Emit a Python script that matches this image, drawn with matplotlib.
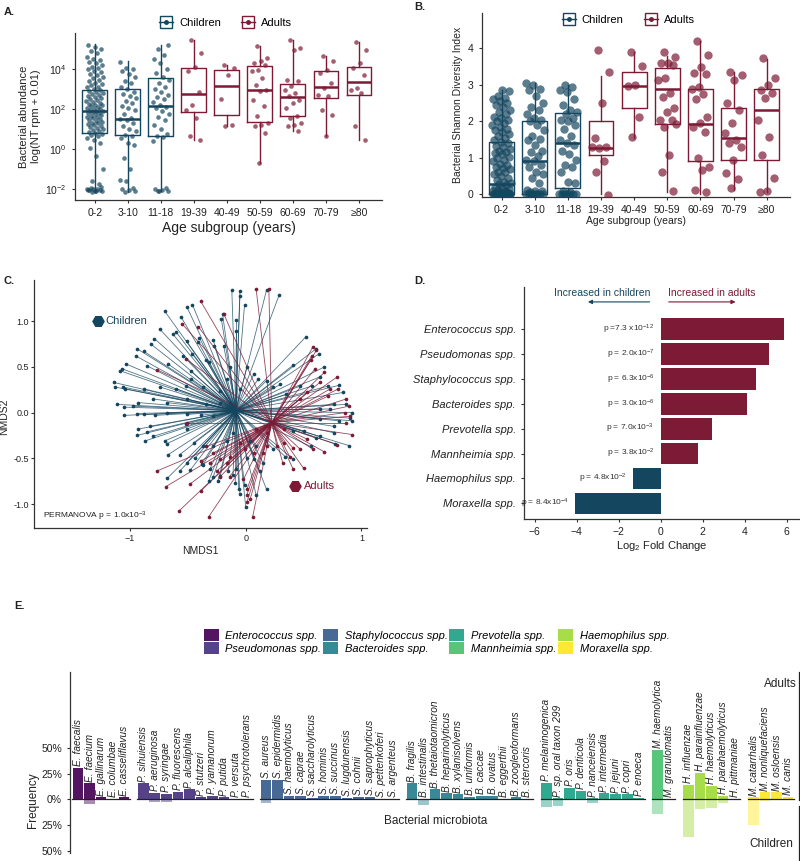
import numpy as np
import matplotlib
matplotlib.use("Agg")
import matplotlib.pyplot as plt
from matplotlib.lines import Line2D
from matplotlib.patches import Patch
from matplotlib.collections import LineCollection
from matplotlib.legend_handler import HandlerTuple

plt.rcParams['font.family'] = ['Liberation Sans', 'DejaVu Sans']
plt.rcParams['mathtext.fontset'] = 'custom'
plt.rcParams['mathtext.rm'] = 'Liberation Sans'
plt.rcParams['mathtext.it'] = 'Liberation Sans:italic'

# ---------------- DATA ----------------
age_groups = ['0-2', '3-10', '11-18', '19-39', '40-49', '50-59', '60-69', '70-79', '≥80']
group_is_child = [True, True, True, False, False, False, False, False, False]

# Panel A: log10(NT rpm + 0.01) box statistics
A_q1 = [0.78, 0.67, 0.63, 1.82, 1.67, 1.32, 1.62, 2.53, 2.67]
A_med = [1.87, 1.50, 2.12, 2.75, 3.15, 2.95, 2.57, 3.07, 3.32]
A_q3 = [2.95, 2.98, 3.53, 4.03, 3.92, 4.15, 3.23, 3.90, 4.08]
A_wlo = [-2.13, -2.13, -2.10, 0.45, 1.12, -0.72, 0.87, 0.62, 0.45]
A_whi = [5.23, 4.37, 5.20, 5.42, 4.20, 5.12, 5.42, 4.65, 5.32]
A_points = [
    [-2.15, -2.1, -2.1, -2.05, -2.05, -2.0, -2.0, -2.0, -1.95, -1.9, -2.1, -2.05, -1.75, -1.6, -1.0, -0.35,
     0.05, 0.3, 0.45, 0.55, 0.62, 0.7, 0.74, 0.8, 0.83, 0.9, 0.95, 1.0, 1.03, 1.1, 1.15, 1.2, 1.22, 1.28,
     1.3, 1.35, 1.4, 1.45, 1.5, 1.52, 1.58, 1.6, 1.65, 1.7, 1.72, 1.78, 1.8, 1.85, 1.88, 1.9, 1.93, 1.97,
     2.0, 2.04, 2.1, 2.12, 2.18, 2.2, 2.25, 2.3, 2.33, 2.4, 2.42, 2.5, 2.55, 2.6, 2.63, 2.7, 2.75, 2.8,
     2.85, 2.9, 2.95, 3.0, 3.08, 3.1, 3.2, 3.25, 3.3, 3.4, 3.45, 3.55, 3.6, 3.7, 3.75, 3.85, 3.9, 4.0,
     4.05, 4.1, 4.2, 4.3, 4.35, 4.45, 4.5, 4.6, 4.8, 4.9, 5.0, 5.1, 5.2],
    [-2.15, -2.1, -2.05, -2.0, -1.95, -1.6, -1.55, -1.0, -0.45, 0.2, 0.3, 0.55, 0.65, 0.7, 0.9, 1.0, 1.15,
     1.3, 1.45, 1.5, 1.55, 1.75, 1.95, 2.05, 2.15, 2.3, 2.4, 2.55, 2.65, 2.75, 2.85, 3.0, 3.1, 3.3, 3.4,
     3.6, 3.75, 3.9, 4.0, 4.05, 4.35],
    [-2.12, -2.08, -2.05, -2.0, -1.95, -2.1, 0.4, 0.6, 0.65, 0.75, 1.0, 1.2, 1.45, 1.6, 1.75, 1.9, 2.05,
     2.1, 2.2, 2.35, 2.5, 2.6, 2.7, 2.85, 3.0, 3.1, 3.3, 3.45, 3.6, 3.8, 4.0, 4.3, 4.5, 4.7, 5.0, 5.2],
    [5.42, 4.78, 4.1, 3.9, 2.85, 2.2, 1.95, 1.55, 0.62, 0.45],
    [4.2, 4.05, 3.7, 2.5, 1.2, 1.12],
    [5.12, 4.53, 4.37, 4.28, 4.2, 3.95, 3.87, 3.53, 3.2, 2.95, 2.87, 2.45, 2.12, 1.62, 1.28, 1.2, 1.15, 0.78, -0.72],
    [5.42, 5.03, 4.95, 3.45, 3.37, 3.12, 2.95, 2.78, 2.62, 2.45, 2.28, 2.03, 1.62, 1.53, 1.28, 1.2, 1.12, 0.87],
    [4.65, 4.37, 3.95, 3.78, 3.28, 3.03, 2.7, 2.62, 1.95, 1.7, 0.62],
    [5.32, 4.95, 4.28, 4.03, 3.7, 3.03, 2.95, 2.78, 1.15, 0.45],
]

# Panel B: Shannon diversity
B_q1 = [0.02, 0.02, 0.18, 1.08, 2.37, 1.92, 0.90, 0.95, 0.95]
B_med = [0.28, 0.92, 1.40, 1.28, 2.98, 2.88, 1.92, 1.55, 2.30]
B_q3 = [1.42, 2.00, 2.22, 2.02, 3.35, 3.45, 2.90, 2.37, 2.88]
B_wlo = [0.0, 0.0, 0.0, 0.0, 1.55, 0.05, 0.0, 0.12, 0.05]
B_whi = [2.85, 3.05, 3.00, 3.25, 3.90, 3.80, 4.20, 3.35, 3.72]
B_points = [
    [0, 0, 0, 0, 0, 0, 0, 0, 0, 0, 0, 0, 0, 0, 0, 0.02, 0.03, 0.05, 0.05, 0.08, 0.1, 0.12, 0.15, 0.18, 0.2,
     0.25, 0.28, 0.3, 0.35, 0.4, 0.45, 0.5, 0.55, 0.6, 0.62, 0.7, 0.72, 0.75, 0.8, 0.82, 0.9, 0.95, 1.0,
     1.02, 1.1, 1.12, 1.15, 1.2, 1.25, 1.3, 1.32, 1.4, 1.42, 1.5, 1.55, 1.6, 1.65, 1.7, 1.75, 1.8, 1.85,
     1.9, 1.95, 2.0, 2.05, 2.1, 2.12, 2.2, 2.25, 2.3, 2.4, 2.45, 2.5, 2.55, 2.6, 2.65, 2.7, 2.82, 2.85],
    [0, 0, 0, 0, 0, 0, 0, 0.02, 0.05, 0.08, 0.1, 0.12, 0.3, 0.45, 0.55, 0.6, 0.75, 0.8, 0.9, 0.95, 1.05,
     1.15, 1.2, 1.35, 1.5, 1.52, 1.6, 1.75, 1.9, 2.0, 2.05, 2.1, 2.2, 2.3, 2.4, 2.5, 2.7, 2.85, 2.9, 3.0, 3.05],
    [0, 0, 0, 0, 0, 0, 0.02, 0.05, 0.1, 0.3, 0.35, 0.6, 0.75, 0.8, 0.95, 1.1, 1.2, 1.35, 1.4, 1.5, 1.6,
     1.8, 1.9, 2.0, 2.05, 2.1, 2.2, 2.25, 2.3, 2.45, 2.6, 2.8, 2.85, 2.95, 3.0],
    [3.95, 3.36, 2.5, 1.53, 1.3, 1.28, 1.3, 0.92, 0.62, -0.03],
    [3.9, 3.52, 3.0, 2.97, 2.13, 1.56],
    [3.89, 3.77, 3.59, 3.59, 3.54, 3.18, 3.13, 2.77, 2.68, 2.36, 2.26, 2.04, 2.04, 1.85, 1.93, 1.08, 0.62, 0.09],
    [4.21, 3.82, 3.5, 3.33, 3.3, 2.93, 2.9, 2.74, 2.6, 2.13, 1.95, 1.85, 1.72, 0.99, 0.76, 0.67, 0.12, 0.05],
    [3.36, 3.27, 3.13, 2.49, 2.31, 1.96, 1.67, 1.49, 1.4, 1.31, 0.94, 0.58, 0.41, 0.16],
    [3.73, 3.18, 3.0, 2.86, 2.77, 2.63, 2.05, 1.58, 1.08, 0.44, 0.09, 0.07],
]

# Panel C: NMDS coordinates
C_children_centroid = (-0.085, 0.02)
C_adults_centroid = (0.225, -0.11)
C_children = [
    (-0.46, 1.18), (-0.51, 1.16), (-0.70, 1.11), (-0.56, 1.05), (-0.21, 1.02), (-0.20, 1.08), (-0.08, 1.01),
    (-0.08, 0.89), (-0.74, 0.91), (-0.63, 0.86), (-0.60, 0.88), (-0.79, 0.81), (-0.51, 0.78), (-0.40, 0.82),
    (-0.82, 0.75), (-0.94, 0.70), (-0.88, 0.67), (-0.95, 0.62), (-0.41, 0.77), (-0.28, 0.79), (-0.27, 0.73),
    (-0.19, 0.73), (-0.54, 0.62), (-0.46, 0.64), (-0.34, 0.57), (-0.32, 0.55), (-0.14, 0.50), (0.01, 0.50),
    (-1.03, 0.53), (-1.07, 0.48), (-1.09, 0.46), (-0.85, 0.51), (-0.67, 0.53), (-0.47, 0.45), (-0.47, 0.37),
    (-0.16, 0.37), (0.07, 0.42), (0.11, 0.37), (0.18, 0.35), (0.41, 0.52), (0.52, 0.83), (0.61, 0.70),
    (0.63, 0.64), (-1.14, 0.33), (-1.13, 0.28), (-1.06, 0.28), (-1.04, 0.26), (-0.88, 0.26), (-0.74, 0.28),
    (-0.60, 0.26), (-0.52, 0.29), (-0.37, 0.28), (-0.22, 0.24), (-0.05, 0.26), (0.24, 0.28), (0.30, 0.31),
    (0.35, 0.20), (0.47, 0.29), (0.57, 0.29), (0.68, 0.50), (0.64, 0.39), (0.71, 0.29), (0.81, 0.30),
    (0.84, 0.22), (-1.11, 0.09), (-1.05, 0.06), (-0.97, 0.07), (-0.93, 0.11), (-0.80, 0.15), (-0.68, 0.11),
    (-0.51, 0.15), (-0.34, 0.09), (-0.22, 0.11), (-0.14, 0.11), (0.64, 0.04), (0.73, 0.04), (0.76, 0.09),
    (0.87, 0.09), (0.92, 0.00), (0.90, -0.06), (-1.05, -0.03), (-0.94, -0.01), (-0.88, -0.02), (-0.78, -0.03),
    (-0.68, 0.00), (-0.51, -0.02), (-0.39, -0.03), (-0.28, -0.04), (0.64, -0.07), (0.81, -0.09), (0.92, -0.09),
    (0.76, -0.15), (-0.83, -0.15), (-0.93, -0.18), (-0.85, -0.21), (-0.94, -0.25), (-0.87, -0.31), (-0.70, -0.31),
    (-0.68, -0.34), (-0.80, -0.26), (-0.52, -0.13), (-0.51, -0.18), (-0.45, -0.33), (-0.37, -0.36), (-0.28, -0.37),
    (-0.16, -0.31), (-0.11, -0.22), (0.04, -0.31), (0.09, -0.37), (0.41, -0.20), (0.50, -0.20), (0.64, -0.26),
    (0.76, -0.22), (0.77, -0.34), (0.89, -0.36), (-0.67, -0.46), (-0.57, -0.46), (-0.51, -0.55), (-0.44, -0.50),
    (-0.38, -0.56), (-0.31, -0.62), (-0.28, -0.70), (-0.32, -0.75), (-0.24, -0.75), (-0.22, -0.69), (-0.68, -0.72),
    (-0.57, -0.64), (-0.48, -0.63), (-0.37, -0.57), (-0.11, -0.68), (-0.09, -0.77), (-0.06, -0.84), (-0.05, -0.89),
    (0.00, -1.03), (-0.01, -0.79), (0.09, -0.90), (0.18, -0.84), (0.12, -0.64), (0.15, -0.55), (0.24, -0.40),
    (0.07, -0.51), (0.34, -0.48), (0.41, -0.51), (0.01, -0.50), (-0.15, -0.64), (-0.08, -0.62), (0.56, -0.37),
    (0.61, -0.28), (-0.12, 1.34), (-0.05, 1.33), (-0.05, 1.28), (-0.01, 1.18), (0.18, 1.34), (0.29, 1.29),
]
C_adults = [
    (-0.39, 1.22), (-0.19, 1.08), (-0.55, 0.97), (-0.41, 0.94), (0.09, 1.35), (0.20, 1.35), (-0.52, 0.59),
    (-0.77, 0.47), (0.58, 0.72), (0.61, 0.68), (0.57, 0.62), (0.56, 0.57), (0.60, 0.48), (0.68, 0.44),
    (0.79, 0.39), (0.73, 0.26), (0.71, 0.18), (0.64, 0.33), (0.53, 0.22), (0.47, 0.15), (0.87, 0.15),
    (0.89, 0.07), (0.90, -0.04), (0.87, -0.11), (0.92, -0.24), (0.79, -0.35), (0.68, -0.43), (0.58, -0.40),
    (0.47, -0.40), (0.41, -0.39), (0.38, -0.48), (0.50, -0.61), (0.41, -0.62), (0.32, -0.55), (0.33, -0.33),
    (0.27, -0.37), (0.18, -0.37), (0.15, -0.44), (0.07, -0.44), (-0.01, -0.40), (-0.05, -0.33), (-0.14, -0.48),
    (-0.16, -0.55), (-0.22, -0.51), (-0.28, -0.44), (-0.31, -0.55), (-0.34, -0.37), (-0.39, -0.53), (-0.25, -0.64),
    (-0.22, -0.70), (-0.14, -0.70), (-0.02, -0.73), (0.01, -0.84), (0.01, -0.90), (0.04, -0.94), (0.01, -0.98),
    (0.06, -1.14), (-0.32, -1.14), (-0.58, -1.08), (-0.69, -0.81), (-0.77, -0.64), (-0.48, -0.78), (-0.39, -0.86),
    (-0.51, -0.11), (0.18, -0.22), (0.09, -0.18), (0.33, -0.18), (0.53, -0.29), (0.80, 0.26), (0.86, 0.00),
]

# Panel D: log2 fold change
D_taxa = ['Enterococcus spp.', 'Pseudomonas spp.', 'Staphylococcus spp.', 'Bacteroides spp.',
          'Prevotella spp.', 'Mannheimia spp.', 'Haemophilus spp.', 'Moraxella spp.']
D_lfc = [5.86, 5.14, 4.55, 4.11, 2.43, 1.77, -1.32, -4.08]
D_pvals = [r'p =7.3 x10$^{-12}$', r'p = 2.0x10$^{-7}$', r'p = 6.3x10$^{-6}$', r'p = 3.0x10$^{-6}$',
           r'p = 7.0x10$^{-3}$', r'p = 3.8x10$^{-2}$', r'p = 4.8x10$^{-2}$', r'p = 8.4x10$^{-4}$']

# Panel E: frequency (%) of species in adults (up) and children (down)
E_genera = D_taxa
E_species = [
    ['E. faecalis', 'E. faecium', 'E. gallinarum', 'E. columbae', 'E. casseliflavus'],
    ['P. sihuiensis', 'P. aeruginosa', 'P. syringae', 'P. fluorescens', 'P. alcaliphila', 'P. stutzeri',
     'P. yamanorum', 'P. putida', 'P. versuta', 'P. psychrotolerans'],
    ['S. aureus', 'S. epidermidis', 'S. haemolyticus', 'S. caprae', 'S. saccharolyticus', 'S. hominis',
     'S. succinus', 'S. lugdunensis', 'S. cohnii', 'S. saprophyticus', 'S. pettenkoferi', 'S. argenteus'],
    ['B. fragilis', 'B. intestinalis', 'B. thetaiotaomicron', 'B. heparinolyticus', 'B. xylanisolvens',
     'B. uniformis', 'B. caccae', 'B. ovatus', 'B. eggerthii', 'B. zoogleoformans', 'B. stercoris'],
    ['P. melaninogenica', 'P. sp. oral taxon 299', 'P. oris', 'P. denticola', 'P. nanceiensis',
     'P. intermedia', 'P. jejuni', 'P. copri', 'P. enoeca'],
    ['M. haemolytica', 'M. granulomatis'],
    ['H. influenzae', 'H. parainfluenzae', 'H. haemolyticus', 'H. parahaemolyticus', 'H. pittmaniae'],
    ['M. catarrhalis', 'M. nonliquefaciens', 'M. osloensis', 'M. canis'],
]
E_adults = [
    [31.0, 15.5, 2.0, 0.5, 2.0],
    [15.5, 6.5, 5.0, 7.4, 9.7, 2.0, 3.2, 2.0, 0.4, 0.4],
    [18.7, 18.7, 3.5, 3.5, 1.6, 3.5, 3.5, 1.3, 2.6, 2.6, 0.5, 0.5],
    [15.5, 0.5, 9.7, 5.8, 4.8, 2.6, 3.5, 3.5, 0.5, 2.0, 0.4],
    [16.0, 1.0, 11.3, 8.0, 1.0, 5.8, 4.8, 4.8, 1.6],
    [47.8, 0.3],
    [13.9, 25.9, 13.0, 3.5, 0.8],
    [2.0, 6.8, 6.8, 2.2],
]
E_children = [
    [0, 4.0, 0, 0, 0],
    [0, 2.3, 2.3, 0, 0, 0, 0, 0, 0, 0],
    [3.0, 0, 0, 0, 0, 0, 0, 0, 0, 0, 0, 0],
    [0, 5.0, 0, 0, 0, 0, 0, 0, 0, 0, 0],
    [7.0, 6.0, 0, 0, 3.0, 0, 0, 0, 0],
    [14.3, 0],
    [36.0, 9.4, 8.0, 3.2, 0],
    [25.0, 1.5, 1.0, 0],
]

# ---------------- STYLE ----------------
C_CHILD = '#15465f'
C_ADULT = '#7d1a35'
AX_COL = '#333333'
W, H = 800, 861

fig = plt.figure(figsize=(W / 100, H / 100), dpi=100)


def px_axes(l, t, r, b):
    return fig.add_axes([l / W, 1 - b / H, (r - l) / W, (b - t) / H])


def style_spines(ax):
    for s in ['top', 'right']:
        ax.spines[s].set_visible(False)
    for s in ['left', 'bottom']:
        ax.spines[s].set_color(AX_COL)
        ax.spines[s].set_linewidth(0.9)
    ax.tick_params(colors=AX_COL, length=2.5, width=0.8, labelcolor='#222222')


def jitter(n, half):
    return ((np.arange(n) * 0.6180339887 + 0.31) % 1.0 - 0.5) * 2 * half


def box_panel(ax, q1, med, q3, wlo, whi, pts, transform, ms, alpha, jit):
    pos = np.arange(1, len(age_groups) + 1)
    for i in range(len(age_groups)):
        col = C_CHILD if group_is_child[i] else C_ADULT
        v = np.array(pts[i], dtype=float)
        ax.scatter(pos[i] + jitter(len(v), jit), transform(v), s=ms, color=col, alpha=alpha,
                   linewidths=0, zorder=3)
    stats = []
    for i in range(len(age_groups)):
        stats.append(dict(q1=transform(q1[i]), med=transform(med[i]), q3=transform(q3[i]),
                          whislo=transform(wlo[i]), whishi=transform(whi[i]), fliers=[]))
    bp = ax.bxp(stats, positions=pos, widths=0.75, showfliers=False, showcaps=False,
                boxprops=dict(linewidth=1.0), whiskerprops=dict(linewidth=1.0),
                medianprops=dict(linewidth=1.8), zorder=2)
    for i in range(len(age_groups)):
        col = C_CHILD if group_is_child[i] else C_ADULT
        bp['boxes'][i].set_color(col)
        bp['medians'][i].set_color(col)
        bp['whiskers'][2 * i].set_color(col)
        bp['whiskers'][2 * i + 1].set_color(col)
    ax.set_xticks(pos)
    ax.set_xticklabels(age_groups)
    ax.set_xlim(0.4, 9.7)


def box_legend(ax, anchor, fs):
    hc = (Line2D([], [], marker='s', ms=8, mfc='none', mec=C_CHILD, ls='none', mew=1.0),
          Line2D([], [], marker='o', ms=2.5, color=C_CHILD, ls='-', lw=1.0))
    ha = (Line2D([], [], marker='s', ms=8, mfc='none', mec=C_ADULT, ls='none', mew=1.0),
          Line2D([], [], marker='o', ms=2.5, color=C_ADULT, ls='-', lw=1.0))
    ax.legend([hc, ha], ['Children', 'Adults'], handler_map={tuple: HandlerTuple(ndivide=1)},
              ncol=2, frameon=False, loc='center', bbox_to_anchor=anchor, fontsize=fs,
              handlelength=1.3, columnspacing=1.8, handletextpad=0.5)


# ---------------- PANEL A ----------------
axA = px_axes(75, 33, 382, 200)
box_panel(axA, A_q1, A_med, A_q3, A_wlo, A_whi, A_points, lambda v: 10.0 ** np.asarray(v),
          ms=11, alpha=0.7, jit=0.26)
axA.set_yscale('log')
axA.set_ylim(10 ** -2.55, 10 ** 5.78)
axA.set_yticks([1e-2, 1e0, 1e2, 1e4])
axA.set_yticklabels([r'$10^{-2}$', r'$10^{0}$', r'$10^{2}$', r'$10^{4}$'])
axA.minorticks_off()
style_spines(axA)
axA.tick_params(labelsize=7.5)
axA.set_ylabel('Bacterial abundance\nlog(NT rpm + 0.01)', fontsize=8, color='#222222', labelpad=3)
axA.set_xlabel('Age subgroup (years)', fontsize=10, color='#222222', labelpad=2)
box_legend(axA, (0.49, 1.06), 8)

# ---------------- PANEL B ----------------
axB = px_axes(481.7, 13, 790, 196.7)
box_panel(axB, B_q1, B_med, B_q3, B_wlo, B_whi, B_points, lambda v: np.asarray(v, dtype=float),
          ms=36, alpha=0.7, jit=0.28)
axB.set_ylim(-0.066, 4.97)
axB.set_yticks([0, 1, 2, 3, 4])
style_spines(axB)
axB.tick_params(labelsize=7.5)
axB.set_ylabel('Bacterial Shannon Diversity Index', fontsize=7.5, color='#222222', labelpad=3)
axB.set_xlabel('Age subgroup (years)', fontsize=7.5, color='#222222', labelpad=1)
box_legend(axB, (0.475, 0.962), 8)

# ---------------- PANEL C ----------------
axC = px_axes(34.3, 280, 366.7, 528.3)
ch = np.array(C_children)
ad = np.array(C_adults)
segs_c = [[C_children_centroid, tuple(p)] for p in ch]
segs_a = [[C_adults_centroid, tuple(p)] for p in ad]
axC.add_collection(LineCollection(segs_c, colors=C_CHILD, linewidths=0.6, alpha=0.75, zorder=1))
axC.add_collection(LineCollection(segs_a, colors=C_ADULT, linewidths=0.6, alpha=0.8, zorder=2))
axC.scatter(ch[:, 0], ch[:, 1], s=7, color=C_CHILD, zorder=3, linewidths=0)
axC.scatter(ad[:, 0], ad[:, 1], s=7, color=C_ADULT, zorder=4, linewidths=0)
axC.set_xlim(-1.826, 1.045)
axC.set_ylim(-1.265, 1.45)
axC.set_xticks([-1, 0, 1])
axC.set_yticks([-1.0, -0.5, 0.0, 0.5, 1.0])
axC.set_yticklabels(['-1.0', '-0.5', '0.0', '0.5', '1.0'])
style_spines(axC)
axC.tick_params(labelsize=6.5, pad=1.5)
axC.set_xlabel('NMDS1', fontsize=7.5, color='#222222', labelpad=2)
axC.set_ylabel('NMDS2', fontsize=7.5, color='#222222')
axC.yaxis.set_label_coords(-0.075, 0.45)
axC.plot([-1.28], [1.0], marker='H', ms=8, color=C_CHILD, ls='none')
axC.text(-1.21, 1.0, 'Children', color=C_CHILD, fontsize=8, va='center', ha='left')
axC.plot([0.43], [-0.8], marker='H', ms=8, color=C_ADULT, ls='none')
axC.text(0.5, -0.8, 'Adults', color=C_ADULT, fontsize=8, va='center', ha='left')
axC.text(0.025, 0.05, r'PERMANOVA p = 1.0x10$^{-3}$', transform=axC.transAxes, fontsize=6,
         color='#222222', va='center', ha='left')

# ---------------- PANEL D ----------------
axD = px_axes(524.3, 287, 800, 519)
ypos = np.arange(len(D_taxa))[::-1]
cols = [C_ADULT if v > 0 else C_CHILD for v in D_lfc]
axD.barh(ypos, D_lfc, height=0.87, color=cols, zorder=2)
for y, v, p in zip(ypos, D_lfc, D_pvals):
    axD.text(min(v, 0) - 0.3, y, p, ha='right', va='center', fontsize=6, color='#333333')
axD.set_yticks(ypos)
axD.set_yticklabels(D_taxa, fontstyle='italic', fontsize=8)
axD.set_xlim(-6.5, 6.64)
axD.set_ylim(-0.63, 8.7)
axD.set_xticks([-6, -4, -2, 0, 2, 4, 6])
style_spines(axD)
axD.tick_params(axis='x', labelsize=7.5)
axD.set_xlabel(r'Log$_2$ Fold Change', fontsize=8, color='#222222', labelpad=1)
axD.annotate('', xy=(-3.6, 8.1), xytext=(-0.4, 8.1),
             arrowprops=dict(arrowstyle='-|>', color=C_CHILD, lw=0.8, mutation_scale=6))
axD.annotate('', xy=(3.7, 8.1), xytext=(0.25, 8.1),
             arrowprops=dict(arrowstyle='-|>', color=C_ADULT, lw=0.8, mutation_scale=6))
axD.text(-2.77, 8.45, 'Increased in children', color=C_CHILD, fontsize=7.5, ha='center', va='center')
axD.text(2.43, 8.45, 'Increased in adults', color=C_ADULT, fontsize=7.5, ha='center', va='center')

# ---------------- PANEL E ----------------
axE = px_axes(70.3, 671.7, 799, 853)
gen_colors = [plt.cm.viridis(k / 7) for k in range(8)]
x0 = 0.0
gap = 0.65
for g in range(len(E_genera)):
    n = len(E_species[g])
    xs = x0 + np.arange(n)
    a = np.array(E_adults[g]) / 100.0
    c = np.array(E_children[g]) / 100.0
    axE.bar(xs, a, width=0.92, color=gen_colors[g], alpha=0.92, linewidth=0, zorder=2)
    axE.bar(xs, -c, width=0.92, color=gen_colors[g], alpha=0.45, linewidth=0, zorder=2)
    axE.plot([xs[0] - 0.5, xs[-1] + 0.5], [0, 0], color='#222222', lw=0.9, zorder=3)
    for xi, ai, name in zip(xs, a, E_species[g]):
        axE.text(xi, ai + 0.018, name, rotation=90, ha='center', va='bottom', fontsize=7.3,
                 fontstyle='italic', color='#222222')
    x0 = xs[-1] + 1 + gap
last_x = x0 - 1 - gap
axE.set_xlim(-0.67, last_x + 0.94)
axE.set_ylim(-0.52, 1.24)
axE.set_yticks([-0.5, -0.25, 0, 0.25, 0.5])
axE.set_yticklabels(['50%', '25%', '0%', '25%', '50%'])
for s in ['top', 'right', 'bottom']:
    axE.spines[s].set_visible(False)
axE.spines['left'].set_color(AX_COL)
axE.spines['left'].set_linewidth(0.9)
axE.tick_params(axis='y', colors=AX_COL, length=2.5, width=0.8, labelsize=7.5, labelcolor='#222222')
axE.set_xticks([])
axE.set_ylabel('Frequency', fontsize=8.5, color='#222222')
axE.yaxis.set_label_coords(-0.043, 0.292)
# right-hand indicator lines
axE.plot([1.0, 1.0], [0.295, 1.0], transform=axE.transAxes, color='#222222', lw=0.9, clip_on=False)
axE.plot([1.0, 1.0], [0.257, -0.05], transform=axE.transAxes, color='#222222', lw=0.9, clip_on=False)
axE.text(0.975, 0.93, 'Adults', transform=axE.transAxes, ha='center', va='center', fontsize=8.5,
         color='#222222')
axE.text(0.962, 0.05, 'Children', transform=axE.transAxes, ha='center', va='center', fontsize=8.5,
         color='#222222')
axE.text(0.502, 0.175, 'Bacterial microbiota', transform=axE.transAxes, ha='center', va='center',
         fontsize=8.5, color='#222222')

handles = [Patch(facecolor=gen_colors[k], alpha=0.92, edgecolor='none') for k in range(8)]
leg = fig.legend(handles, E_genera, ncol=4, loc='upper left', bbox_to_anchor=(196 / W, 1 - 621 / H),
                 frameon=False, prop=dict(style='italic', size=8), handlelength=1.35, handleheight=1.35,
                 columnspacing=0.15, handletextpad=0.6, labelspacing=0.05, borderpad=0.2)

# ---------------- panel letters ----------------
for lab, (px, py) in {'A.': (4, 12), 'B.': (414, 7), 'C.': (4, 281), 'D.': (414, 281), 'E.': (14, 606)}.items():
    fig.text(px / W, 1 - py / H, lab, fontsize=8, fontweight='bold', va='center', ha='left',
             color='#222222')

fig.savefig('out.png', dpi=100)
